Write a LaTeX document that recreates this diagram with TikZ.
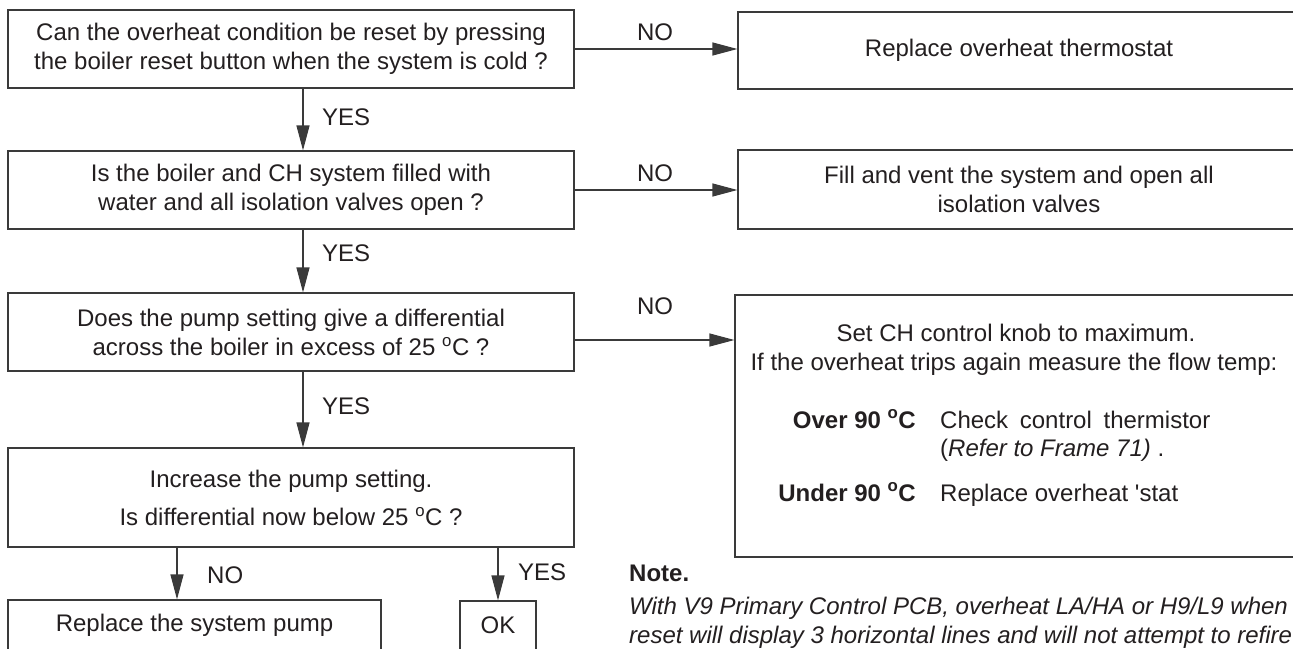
\documentclass[tikz,border=0pt]{standalone}
\usepackage{fontspec}
\setmainfont{Liberation Sans}
\usetikzlibrary{arrows.meta}
\definecolor{ink}{HTML}{231F20}
\definecolor{edge}{HTML}{3A3A3A}
\begin{document}
\begin{tikzpicture}[x=1pt,y=-1pt,
  every node/.style={text=ink, font=\fontsize{24}{29}\selectfont, inner sep=0pt},
  box/.style={draw=edge, line width=1.2pt, align=center},
  arr/.style={draw=edge, line width=1.2pt, -{Triangle[length=25pt,width=13pt]}},
  lbl/.style={anchor=base west},
  clbl/.style={anchor=base}
]
\useasboundingbox (0,0) rectangle (1293,648);
\clip (0,0) rectangle (1293,648);
\fill[white] (0,0) rectangle (1293,648);

% left column
\node[box, minimum width=566pt, minimum height=78pt] (b1) at (291,49)
  {Can the overheat condition be reset by pressing\\the boiler reset button when the system is cold ?};
\node[box, minimum width=566pt, minimum height=78pt] (b2) at (291,190)
  {Is the boiler and CH system filled with\\water and all isolation valves open ?};
\node[box, minimum width=566pt, minimum height=78pt] (b3) at (291,332)
  {Does the pump setting give a differential\\across the boiler in excess of 25 \textsuperscript{o}C ?};
\node[box, minimum width=566pt, minimum height=99pt] (b4) at (291,497.5)
  {Increase the pump setting.\\[9pt]Is differential now below 25 \textsuperscript{o}C ?};
\node[box, minimum width=373pt, minimum height=50pt] (pump) at (194.5,625)
  {Replace the system pump};
\node[box, minimum width=76pt, minimum height=49pt] (ok) at (498,625.5) {OK};

% right column
\node[box, minimum width=562pt, minimum height=77pt] (r1) at (1019,50.5)
  {Replace overheat thermostat};
\node[box, minimum width=562pt, minimum height=79pt] (r2) at (1019,189.5)
  {Fill and vent the system and open all\\isolation valves};
\node[box, minimum width=565pt, minimum height=262pt] (r3) at (1017.5,426) {};
\node[clbl] (r3a) at (1016,341) {Set CH control knob to maximum.};
\node[clbl] (r3b) at (1014,370) {If the overheat trips again measure the flow temp:};
\node[anchor=base east, font=\fontsize{24}{29}\selectfont\bfseries] (over) at (916,428) {Over 90 \textsuperscript{o}C};
\node[lbl] (over1) at (940,428) {Check\hspace{5pt} control\hspace{5pt} thermistor};
\node[lbl] (over2) at (940,456) {(\textit{Refer to Frame 71)}\ .};
\node[anchor=base east, font=\fontsize{24}{29}\selectfont\bfseries] (under) at (916,501) {Under 90 \textsuperscript{o}C};
\node[lbl] (under1) at (940,501) {Replace overheat \textquotesingle stat};

% note
\node[lbl, font=\fontsize{24}{29}\selectfont\bfseries] (note) at (629,581) {Note.};
\node[lbl, font=\fontsize{24}{29}\selectfont\itshape] (note1) at (629,614)
  {With V9 Primary Control PCB, overheat LA/HA or H9/L9 when};
\node[lbl, font=\fontsize{24}{29}\selectfont\itshape] (note2) at (629,643)
  {reset will display 3 horizontal lines and will not attempt to refire};

% connectors
\coordinate (cy) at (303,0);
\coordinate (cn) at (177,0);
\coordinate (co) at (498,0);
\coordinate (n3) at (0,340);
\draw[arr] (b1.south -| cy) -- (b2.north -| cy);
\draw[arr] (b2.south -| cy) -- (b3.north -| cy);
\draw[arr] (b3.south -| cy) -- (b4.north -| cy);
\draw[arr] (b4.south -| cn) -- (pump.north -| cn);
\draw[arr] (b4.south -| co) -- (ok.north);
\draw[arr] (b1.east) -- (b1.east -| r1.west);
\draw[arr] (b2.east) -- (b2.east -| r2.west);
\draw[arr] (b3.east |- n3) -- (r3.west |- n3);

% labels
\node[lbl] (y1) at (322,125) {YES};
\node[lbl] (y2) at (322,261) {YES};
\node[lbl] (y3) at (322,414) {YES};
\node[lbl] (n4) at (207,583) {NO};
\node[lbl] (y4) at (518,580) {YES};
\node[clbl] (no1) at (655,40) {NO};
\node[clbl] (no2) at (655,181) {NO};
\node[clbl] (no3a) at (655,314) {NO};
\end{tikzpicture}
\end{document}
